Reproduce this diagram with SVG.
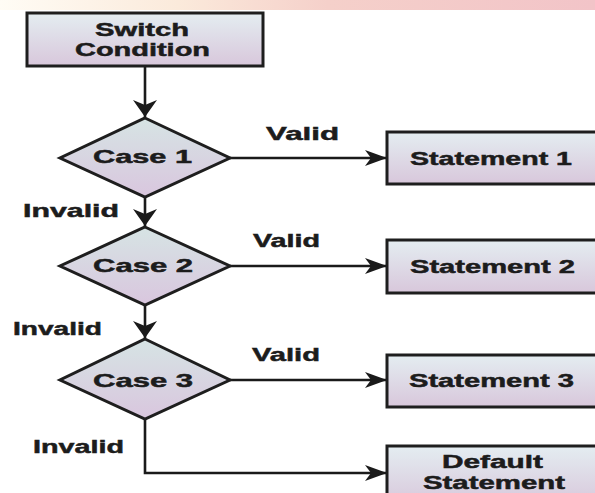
<svg xmlns="http://www.w3.org/2000/svg" width="595" height="493" viewBox="0 0 595 493">
  <defs>
    <linearGradient id="boxFill" x1="0" y1="0" x2="0" y2="1">
      <stop offset="0" stop-color="#e4edf1"/>
      <stop offset="1" stop-color="#d8c7db"/>
    </linearGradient>
    <linearGradient id="diaFill" x1="0" y1="0" x2="0" y2="1">
      <stop offset="0" stop-color="#d6e4e4"/>
      <stop offset="1" stop-color="#d9c6de"/>
    </linearGradient>
    <linearGradient id="topStrip" x1="0" y1="0" x2="1" y2="0">
      <stop offset="0" stop-color="#fffcf5"/>
      <stop offset="0.3" stop-color="#fbeadb"/>
      <stop offset="0.55" stop-color="#f5d0ca"/>
      <stop offset="1" stop-color="#f2c4c8"/>
    </linearGradient>
    <marker id="arrH" markerUnits="userSpaceOnUse" markerWidth="26" markerHeight="20" refX="24" refY="10" orient="auto">
      <path d="M24,10 L2,2 L8,10 L2,18 Z" fill="#1a1a1a"/>
    </marker>
    <marker id="arrV" markerUnits="userSpaceOnUse" markerWidth="20" markerHeight="28" refX="17" refY="14" orient="auto">
      <path d="M17,14 L0,2 L5,14 L0,26 Z" fill="#1a1a1a"/>
    </marker>
  </defs>
  <style>
    .box { fill: url(#boxFill); stroke: #1e1e1e; stroke-width: 3; }
    .dia { fill: url(#diaFill); stroke: #1e1e1e; stroke-width: 3; stroke-linejoin: miter; }
    .t { font-family: "Liberation Sans", Arial, sans-serif; font-weight: bold; font-size: 19px; fill: #1c1c1c; stroke: #1c1c1c; stroke-width: 0.5; }
    .c { stroke: #1a1a1a; stroke-width: 2.6; fill: none; }
  </style>

  <rect x="0" y="0" width="595" height="10" fill="url(#topStrip)"/>

  <g id="connectors">
    <line class="c" x1="145" y1="66" x2="145" y2="117" marker-end="url(#arrV)"/>
    <line class="c" x1="145" y1="197" x2="145" y2="226" marker-end="url(#arrV)"/>
    <line class="c" x1="145" y1="305" x2="145" y2="338" marker-end="url(#arrV)"/>
    <line class="c" x1="230" y1="158" x2="387" y2="158" marker-end="url(#arrH)"/>
    <line class="c" x1="230" y1="266" x2="387" y2="266" marker-end="url(#arrH)"/>
    <line class="c" x1="230" y1="380" x2="387" y2="380" marker-end="url(#arrH)"/>
    <path class="c" d="M145,419 V473 H387" marker-end="url(#arrH)"/>
    <text class="t" x="266" y="140" textLength="73" lengthAdjust="spacingAndGlyphs">Valid</text>
    <text class="t" x="253" y="247" textLength="67" lengthAdjust="spacingAndGlyphs">Valid</text>
    <text class="t" x="252" y="361" textLength="68" lengthAdjust="spacingAndGlyphs">Valid</text>
    <text class="t" x="23" y="217" textLength="96" lengthAdjust="spacingAndGlyphs">Invalid</text>
    <text class="t" x="13" y="335" textLength="89" lengthAdjust="spacingAndGlyphs">Invalid</text>
    <text class="t" x="33" y="453" textLength="91" lengthAdjust="spacingAndGlyphs">Invalid</text>
  </g>

  <g id="switch">
    <rect class="box" x="27" y="13" width="236" height="53"/>
    <text class="t" x="95" y="36" textLength="94" lengthAdjust="spacingAndGlyphs">Switch</text>
    <text class="t" x="75" y="56" textLength="135" lengthAdjust="spacingAndGlyphs">Condition</text>
  </g>

  <g id="case1">
    <polygon class="dia" points="145,118 230,158 145,197 60,158"/>
    <text class="t" x="93" y="163" font-size="20" textLength="99" lengthAdjust="spacingAndGlyphs">Case 1</text>
  </g>
  <g id="case2">
    <polygon class="dia" points="145,227 230,266 145,305 60,266"/>
    <text class="t" x="93" y="272" font-size="20" textLength="100" lengthAdjust="spacingAndGlyphs">Case 2</text>
  </g>
  <g id="case3">
    <polygon class="dia" points="145,339 230,380 145,419 60,380"/>
    <text class="t" x="93" y="387" font-size="20" textLength="100" lengthAdjust="spacingAndGlyphs">Case 3</text>
  </g>

  <g id="statement1">
    <rect class="box" x="387" y="132" width="215" height="52"/>
    <text class="t" x="410" y="165" textLength="162" lengthAdjust="spacingAndGlyphs">Statement 1</text>
  </g>
  <g id="statement2">
    <rect class="box" x="387" y="240" width="215" height="53"/>
    <text class="t" x="410" y="273" textLength="165" lengthAdjust="spacingAndGlyphs">Statement 2</text>
  </g>
  <g id="statement3">
    <rect class="box" x="387" y="355" width="215" height="52"/>
    <text class="t" x="409" y="387" textLength="165" lengthAdjust="spacingAndGlyphs">Statement 3</text>
  </g>
  <g id="default">
    <rect class="box" x="387" y="446" width="215" height="60"/>
    <text class="t" x="442" y="468" textLength="101" lengthAdjust="spacingAndGlyphs">Default</text>
    <text class="t" x="423" y="489" textLength="142" lengthAdjust="spacingAndGlyphs">Statement</text>
  </g>
</svg>
